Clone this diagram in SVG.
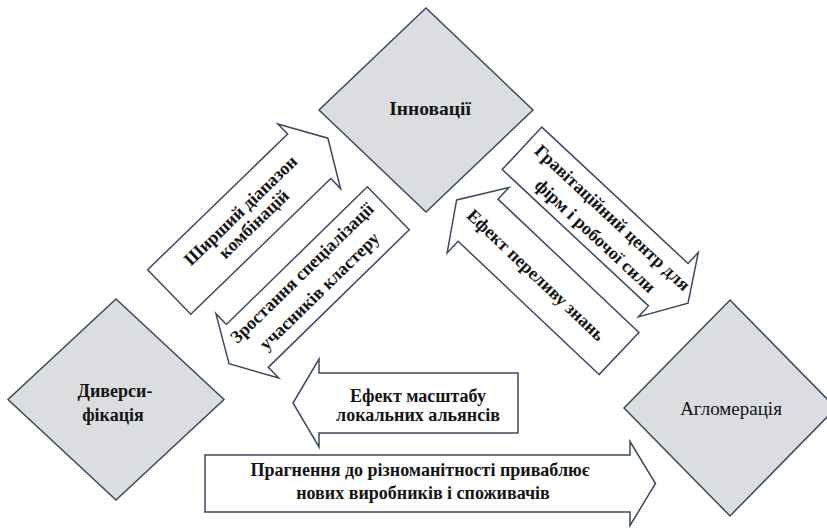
<svg xmlns="http://www.w3.org/2000/svg" width="827" height="530" viewBox="0 0 827 530">
<style>
.dia{fill:#dcdde0;stroke:#3a4a5e;stroke-width:1.5;stroke-linejoin:miter}
.arr{fill:#ffffff;stroke:#3a4a5e;stroke-width:1.5;stroke-linejoin:miter}
text{font-family:'Liberation Serif','DejaVu Serif',serif;font-weight:bold;font-size:18px;fill:#141414;text-anchor:middle}
.lbl{font-size:18px}
</style>
<rect width="827" height="530" fill="#ffffff"/>
<g id="connectors">
  <g id="arrow-combinations">
    <path class="arr" transform="translate(169.2,292) rotate(-44.1)" d="M0,-31 H195 V-45 L221,0 L195,45 V31 H0 Z"/>
    <g transform="translate(246.8,216.8) rotate(-44.1)">
      <text x="0" y="-3">Ширший діапазон</text>
      <text x="0" y="16">комбінацій</text>
    </g>
  </g>
  <g id="arrow-specialization">
    <path class="arr" transform="translate(388.3,208.3) rotate(135.7)" d="M0,-30 H197 V-45 L222.5,0 L197,45 V30 H0 Z"/>
    <g transform="translate(311.7,283) rotate(-44.3)">
      <text x="0" y="-8">Зростання спеціалізації</text>
      <text x="0" y="17">учасників кластеру</text>
    </g>
  </g>
  <g id="arrow-gravity">
    <path class="arr" transform="translate(522,148.3) rotate(43)" d="M0,-29 H200 V-44 L227,0 L200,44 V29 H0 Z"/>
    <g transform="translate(605,225.7) rotate(43)">
      <text x="0" y="-5">Гравітаційний центр для</text>
      <text x="0" y="20">фірм і робочої сили</text>
    </g>
  </g>
  <g id="arrow-spillover">
    <path class="arr" transform="translate(619,353.5) rotate(223.4)" d="M0,-29 H194 V-45 L223.5,0 L194,45 V29 H0 Z"/>
    <g transform="translate(535.9,275) rotate(43.4)">
      <text x="0" y="6">Ефект переливу знань</text>
    </g>
  </g>
  <g id="arrow-scale">
    <path class="arr" d="M518,373 H319 V359 L293,403 L319,447 V433 H518 Z"/>
    <text x="418" y="402">Ефект масштабу</text>
    <text x="418" y="421">локальних альянсів</text>
  </g>
  <g id="arrow-diversity">
    <path class="arr" d="M205,455 H630 V441.5 L655.5,483.5 L630,525.5 V512 H205 Z"/>
    <text x="420" y="476">Прагнення до різноманітності приваблює</text>
    <text x="423" y="498.5">нових виробників і споживачів</text>
  </g>
</g>
<g id="node-innovations">
  <polygon class="dia" points="426,8 533,110 426,212 319,110"/>
  <text class="lbl" x="430" y="115" style="font-size:19.5px">Інновації</text>
</g>
<g id="node-diversification">
  <polygon class="dia" points="116,299 224,399.5 116,500 8,399.5"/>
  <text class="lbl" x="115" y="397">Диверси-</text>
  <text class="lbl" x="113" y="421">фікація</text>
</g>
<g id="node-agglomeration">
  <polygon class="dia" points="730,300 836,408 730,516 624,408"/>
  <text class="lbl" x="731" y="415" style="font-weight:normal;font-size:19px">Агломерація</text>
</g>
</svg>
